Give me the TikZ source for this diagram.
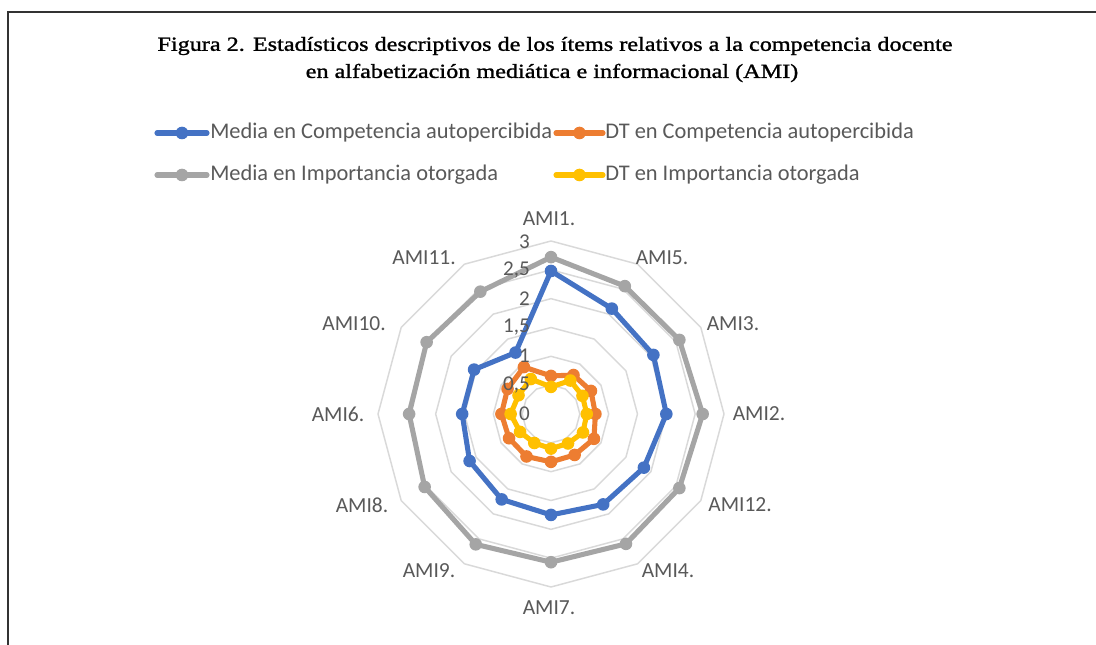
\documentclass[tikz,border=0pt]{standalone}
\usepackage{fontspec}
\usetikzlibrary{calc}
\setmainfont{Carlito}
\newfontfamily\titlefont[FakeStretch=1.21,FakeBold=1.3]{Liberation Serif}
\definecolor{xblue}{HTML}{4472C4}
\definecolor{xorange}{HTML}{ED7D31}
\definecolor{xgray}{HTML}{A5A5A5}
\definecolor{xyellow}{HTML}{FFC000}
\definecolor{txtgray}{HTML}{595959}
\definecolor{gridgray}{HTML}{D9D9D9}
\definecolor{framegray}{HTML}{333333}
\tikzset{
  gridline/.style={draw=gridgray, line width=1.1pt, line join=round},
  series/.style={line width=3.8pt, line join=round, line cap=round},
  axlabel/.style={text=txtgray, font=\fontsize{16.1}{18}\selectfont, inner sep=0pt},
  ticklabel/.style={text=txtgray, font=\fontsize{15.8}{18}\selectfont, inner sep=0pt, anchor=east},
  legtext/.style={text=txtgray, font=\fontsize{16.8}{19}\selectfont, inner sep=0pt, anchor=west},
  titletext/.style={font=\titlefont\fontsize{15}{20}\selectfont, inner sep=0pt, align=center},
}
\def\unitr{57.667}
\def\mk{6.3}
\begin{document}
\begin{tikzpicture}[x=0.75pt,y=0.75pt]
\useasboundingbox (0,0) rectangle (1096,-645);
\fill[white] (0,0) rectangle (1096,-645);
% frame
\coordinate (fr1) at (1096,-12);
\coordinate (fr2) at (8,-12);
\coordinate (fr3) at (8,-645);
\draw[framegray, line width=1.5pt] (fr1) -- (fr2) -- (fr3);
% title
\node[titletext] (title1) at (555,-46) {Figura 2. Estadísticos descriptivos de los ítems relativos a la competencia docente};
\node[titletext] (title2) at (552,-73) {en alfabetización mediática e informacional (AMI)};
% legend
\coordinate (lga) at (157,-133); \coordinate (lgb) at (207,-133);
\draw[series, xblue] (lga) -- (lgb); \fill[xblue] ($(lga)!0.5!(lgb)$) circle (\mk);
\node[legtext] (leg1) at (210,-133) {Media en Competencia autopercibida};
\coordinate (lgc) at (556,-133); \coordinate (lgd) at (603,-133);
\draw[series, xorange] (lgc) -- (lgd); \fill[xorange] ($(lgc)!0.5!(lgd)$) circle (\mk);
\node[legtext] (leg2) at (605,-133) {DT en Competencia autopercibida};
\coordinate (lge) at (157,-175); \coordinate (lgf) at (207,-175);
\draw[series, xgray] (lge) -- (lgf); \fill[xgray] ($(lge)!0.5!(lgf)$) circle (\mk);
\node[legtext] (leg3) at (210,-175) {Media en Importancia otorgada};
\coordinate (lgg) at (556,-175); \coordinate (lgh) at (603,-175);
\draw[series, xyellow] (lgg) -- (lgh); \fill[xyellow] ($(lgg)!0.5!(lgh)$) circle (\mk);
\node[legtext] (leg4) at (605,-175) {DT en Importancia otorgada};
% chart
\begin{scope}[shift={(551,-414)}]
  \coordinate (c) at (0,0);
  \foreach \v in {1,...,6}{
    \draw[gridline] (90:{\v*\unitr/2}) \foreach \k in {1,...,11}{ -- ({90-30*\k}:{\v*\unitr/2}) } -- cycle;
  }
  \foreach \val [count=\k from 0] in {2.48,2.11,2.05,2.00,1.86,1.81,1.75,1.71,1.63,1.54,1.54,1.23}
    \coordinate (b\k) at ({90-30*\k}:{\val*\unitr});
  \foreach \val [count=\k from 0] in {0.66,0.78,0.80,0.77,0.86,0.82,0.83,0.85,0.84,0.86,0.87,0.94}
    \coordinate (o\k) at ({90-30*\k}:{\val*\unitr});
  \foreach \val [count=\k from 0] in {2.72,2.56,2.57,2.63,2.57,2.60,2.57,2.61,2.53,2.46,2.49,2.45}
    \coordinate (g\k) at ({90-30*\k}:{\val*\unitr});
  \foreach \val [count=\k from 0] in {0.47,0.67,0.63,0.62,0.64,0.59,0.60,0.58,0.62,0.70,0.65,0.70}
    \coordinate (y\k) at ({90-30*\k}:{\val*\unitr});
  \draw[series, xblue] (b0) \foreach \k in {1,...,11}{ -- (b\k) } -- cycle;
  \foreach \k in {0,...,11} \fill[xblue] (b\k) circle (\mk);
  \draw[series, xorange] (o0) \foreach \k in {1,...,11}{ -- (o\k) } -- cycle;
  \foreach \k in {0,...,11} \fill[xorange] (o\k) circle (\mk);
  \draw[series, xgray] (g0) \foreach \k in {1,...,11}{ -- (g\k) } -- cycle;
  \foreach \k in {0,...,11} \fill[xgray] (g\k) circle (\mk);
  \draw[series, xyellow] (y0) \foreach \k in {1,...,11}{ -- (y\k) } -- cycle;
  \foreach \k in {0,...,11} \fill[xyellow] (y\k) circle (\mk);
\end{scope}
% tick labels
\node[ticklabel] (t0) at (530,-414) {0};
\node[ticklabel] (t1) at (530,-385) {0,5};
\node[ticklabel] (t2) at (530,-356) {1};
\node[ticklabel] (t3) at (530,-327) {1,5};
\node[ticklabel] (t4) at (530,-299) {2};
\node[ticklabel] (t5) at (530,-270) {2,5};
\node[ticklabel] (t6) at (530,-242) {3};
% axis labels
\node[axlabel] (a1) at (549,-219) {AMI1.};
\node[axlabel] (a5) at (662,-258) {AMI5.};
\node[axlabel] (a3) at (733,-324) {AMI3.};
\node[axlabel] (a2) at (759,-414) {AMI2.};
\node[axlabel] (a12) at (740,-505) {AMI12.};
\node[axlabel] (a4) at (668,-571) {AMI4.};
\node[axlabel] (a7) at (549,-608) {AMI7.};
\node[axlabel] (a9) at (429,-571) {AMI9.};
\node[axlabel] (a8) at (362,-505) {AMI8.};
\node[axlabel] (a6) at (338,-414) {AMI6.};
\node[axlabel] (a10) at (354,-324) {AMI10.};
\node[axlabel] (a11) at (424,-258) {AMI11.};
\end{tikzpicture}
\end{document}
